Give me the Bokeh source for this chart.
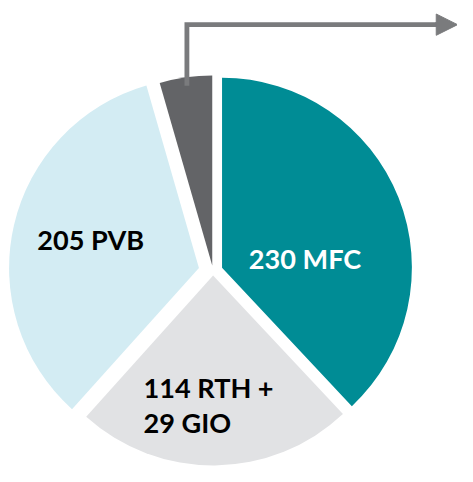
import math
from bokeh.plotting import figure
from bokeh.models import Range1d, ColumnDataSource, Arrow, NormalHead
from bokeh.core.properties import value
from bokeh.embed import file_html
from bokeh.resources import INLINE

# ---- data ----
categories = ["MFC", "RTH + GIO", "PVB", "Other"]
values = [230, 114 + 29, 205, 27]
label_lines = [["230 MFC"], ["114 RTH +", "29 GIO"], ["205 PVB"], []]

# ---- style ----
colors = ["#008C95", "#E1E2E4", "#D3ECF3", "#636467"]
text_colors = ["#FFFFFF", "#000000", "#000000", "#000000"]
explode = [10, 4.5, 15, 6]          # offset of each slice along its bisector
label_pos = [(257, 267), (148, 400), (38, 247), None]  # left, first baseline (layout units)
line_gap = 37
CX, CY = 220, 280   # pie centre (layout units, y downwards)
R = 196.5
FONT = "Lato"
ARROW_COLOR = "#7A7B7D"

W, H = 457, 466
LW, LH = 473, 482     # layout space mapped onto the canvas
S = W / LW


def dy(y):
    # layout y (down) -> data y (up)
    return LH - y


total = float(sum(values))
xs, ys, starts, ends = [], [], [], []
ang = math.pi / 2
for v, e in zip(values, explode):
    span = v / total * 2 * math.pi
    a0 = ang - span
    a1 = ang
    mid = (a0 + a1) / 2
    xs.append(CX + e * math.cos(mid))
    ys.append(dy(CY) + e * math.sin(mid))
    starts.append(a0)
    ends.append(a1)
    ang = a0

src = ColumnDataSource(dict(x=xs, y=ys, start=starts, end=ends, color=colors, cat=categories))

p = figure(width=W, height=H, x_range=Range1d(0, LW), y_range=Range1d(0, LH),
           output_backend="svg", toolbar_location=None, min_border=0,
           x_axis_type=None, y_axis_type=None, outline_line_color=None)
p.grid.visible = False
p.background_fill_color = "white"
p.border_fill_color = "white"

p.wedge(x="x", y="y", radius=R, start_angle="start", end_angle="end",
        fill_color="color", line_color=None, source=src)

# labels
tx, ty, tt, tc = [], [], [], []
for lines, pos, col in zip(label_lines, label_pos, text_colors):
    if pos is None:
        continue
    for k, ln in enumerate(lines):
        tx.append(pos[0])
        ty.append(dy(pos[1] + k * line_gap))
        tt.append(ln)
        tc.append(col)
p.text(x=tx, y=ty, text=tt, text_color=tc, text_font=value(FONT), text_font_style="bold",
       text_font_size=f"{28 * S:.1f}px", text_align="left", text_baseline="alphabetic")

# call-out arrow from the small dark slice
i = 3
mid = (starts[i] + ends[i]) / 2
ax0 = xs[i] + 0.955 * R * math.cos(mid)
ay0 = ys[i] + 0.955 * R * math.sin(mid)
ay1 = dy(25)
head_x = 452
p.line(x=[ax0, ax0, head_x], y=[ay0, ay1, ay1], line_color=ARROW_COLOR, line_width=5 * S,
       line_join="miter")
p.add_layout(Arrow(end=NormalHead(size=22 * S, fill_color=ARROW_COLOR, line_color=ARROW_COLOR),
                   x_start=head_x - 2, y_start=ay1, x_end=LW, y_end=ay1,
                   line_color=ARROW_COLOR, line_width=5 * S))

open("out.html", "w").write(file_html(p, INLINE))
